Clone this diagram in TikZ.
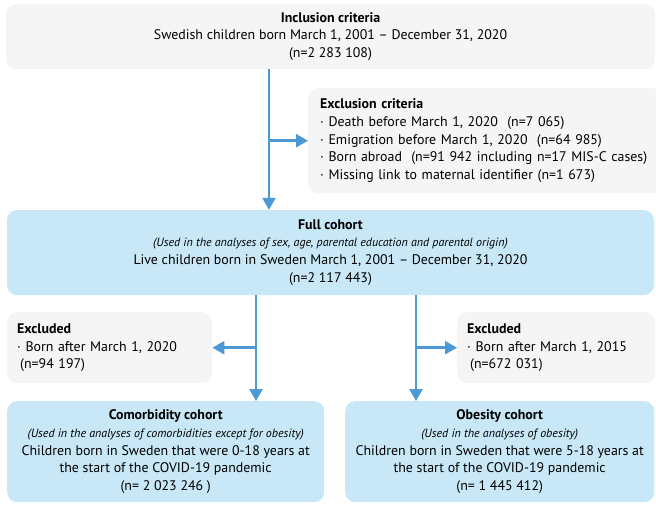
\documentclass[tikz,border=0pt]{standalone}
\usepackage{fontspec}
\setmainfont{PT Sans}
\usetikzlibrary{arrows.meta}
\definecolor{boxgray}{RGB}{245,245,245}
\definecolor{boxblue}{RGB}{200,232,248}
\definecolor{arrowblue}{RGB}{76,153,212}
\newcommand{\mainsz}{\fontsize{13.9}{17.8}\selectfont}
\newcommand{\smallit}[1]{{\fontsize{12}{16}\selectfont\itshape #1}}
\begin{document}
\begin{tikzpicture}[x=1pt,y=-1pt,
  graybox/.style={fill=boxgray, rounded corners=10pt, inner xsep=10pt, inner ysep=0pt, font=\mainsz},
  bluebox/.style={fill=boxblue, rounded corners=10pt, inner xsep=10pt, inner ysep=0pt, font=\mainsz},
  arr/.style={draw=arrowblue, line width=2.5pt, -{Triangle[length=12pt,width=13pt]}}]
\useasboundingbox (0,0) rectangle (656,504);
% boxes
\node[graybox, minimum width=649pt, minimum height=65pt, align=center] (top) at (330.5,36.5)
  {\textbf{Inclusion criteria}\\Swedish children born March 1, 2001 -- December 31, 2020\\(n=2 283 108)};
\node[graybox, text width=330pt, inner xsep=12pt, minimum height=105pt, align=left, anchor=north west] (excl) at (308,88)
  {\textbf{Exclusion criteria}\\
   · Death before March 1, 2020\ \ (n=7 065)\\
   · Emigration before March 1, 2020\ \ (n=64 985)\\
   · Born abroad\ \ (n=91 942 including n=17 MIS-C cases)\\
   · Missing link to maternal identifier (n=1 673)};
\node[bluebox, minimum width=647pt, minimum height=85pt, align=center] (full) at (330.5,252.5)
  {\textbf{Full cohort}\\
   \smallit{(Used in the analyses of sex, age, parental education and parental origin)}\\
   Live children born in Sweden March 1, 2001 -- December 31, 2020\\(n=2 117 443)};
\node[graybox, text width=185pt, inner xsep=10pt, minimum height=71pt, align=left, anchor=north west] (exl) at (7,312)
  {\textbf{Excluded}\\· Born after March 1, 2020\\\hspace*{3pt}(n=94 197)};
\node[graybox, text width=178pt, inner xsep=10pt, minimum height=71pt, align=left, anchor=north west] (exr) at (457,312)
  {\textbf{Excluded}\\· Born after March 1, 2015\\\hspace*{3pt}(n=672 031)};
\node[bluebox, minimum width=317pt, minimum height=101pt, align=center, anchor=north west] (como) at (7,401)
  {\textbf{Comorbidity cohort}\\
   \smallit{(Used in the analyses of comorbidities except for obesity)}\\
   Children born in Sweden that were 0-18 years at\\the start of the COVID-19 pandemic\\(n= 2 023 246 )};
\node[bluebox, minimum width=309pt, minimum height=101pt, align=center, anchor=north west] (obes) at (345,401)
  {\textbf{Obesity cohort}\\
   \smallit{(Used in the analyses of obesity)}\\
   Children born in Sweden that were 5-18 years at\\the start of the COVID-19 pandemic\\(n= 1 445 412)};
% branch columns
\coordinate (c1) at (269,0);
\coordinate (c2) at (256,0);
\coordinate (c3) at (416,0);
% connectors
\draw[arr] (top.south -| c1) -- (full.north -| c1);
\draw[arr] (c1 |- excl.west) -- (excl.west);
\draw[arr] (full.south -| c2) -- (como.north -| c2);
\draw[arr] (c2 |- exl.east) -- (exl.east);
\draw[arr] (full.south -| c3) -- (obes.north -| c3);
\draw[arr] (c3 |- exr.west) -- (exr.west);
\end{tikzpicture}
\end{document}
